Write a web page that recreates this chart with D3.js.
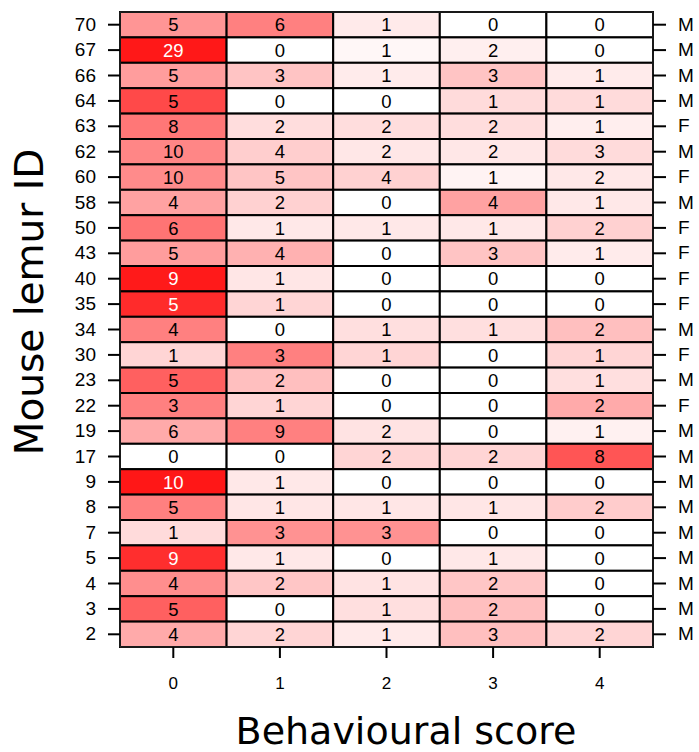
<!DOCTYPE html>
<html>
<head>
<meta charset="utf-8">
<script src="https://cdn.jsdelivr.net/npm/d3@7"></script>
<style>
  body { margin: 0; background: #fff; }
  text { font-family: "Liberation Sans", Arial, sans-serif; }
</style>
</head>
<body>
<script>
// Mouse IDs, top to bottom
const ids = ["70", "67", "66", "64", "63", "62", "60", "58", "50", "43", "40", "35", "34",
             "30", "23", "22", "19", "17", "9", "8", "7", "5", "4", "3", "2"];
const sexes = ["M", "M", "M", "M", "F", "M", "F", "M", "F", "F", "F", "F", "M",
               "F", "M", "F", "M", "M", "M", "M", "M", "M", "M", "M", "M"];
const scores = ["0", "1", "2", "3", "4"];

// counts per score, one row per mouse (same order as ids)
const counts = [
  [5, 6, 1, 0, 0],
  [29, 0, 1, 2, 0],
  [5, 3, 1, 3, 1],
  [5, 0, 0, 1, 1],
  [8, 2, 2, 2, 1],
  [10, 4, 2, 2, 3],
  [10, 5, 4, 1, 2],
  [4, 2, 0, 4, 1],
  [6, 1, 1, 1, 2],
  [5, 4, 0, 3, 1],
  [9, 1, 0, 0, 0],
  [5, 1, 0, 0, 0],
  [4, 0, 1, 1, 2],
  [1, 3, 1, 0, 1],
  [5, 2, 0, 0, 1],
  [3, 1, 0, 0, 2],
  [6, 9, 2, 0, 1],
  [0, 0, 2, 2, 8],
  [10, 1, 0, 0, 0],
  [5, 1, 1, 1, 2],
  [1, 3, 3, 0, 0],
  [9, 1, 0, 1, 0],
  [4, 2, 1, 2, 0],
  [5, 0, 1, 2, 0],
  [4, 2, 1, 3, 2]
];

const W = 699, H = 752;
const margin = {top: 12, right: 46, bottom: 105, left: 120};
const width = W - margin.left - margin.right;
const height = H - margin.top - margin.bottom;

const svg = d3.select("body").append("svg")
  .attr("width", W)
  .attr("height", H);

const g = svg.append("g")
  .attr("transform", "translate(" + margin.left + "," + margin.top + ")");

const x = d3.scaleBand().domain(scores).range([0, width]);
const y = d3.scaleBand().domain(ids).range([0, height]);

// colour by share of the row total, white -> red
const color = d3.scaleLinear().domain([0, 1]).range(["#ffffff", "#ff0000"]);

// flatten into cells
const cells = [];
counts.forEach((row, i) => {
  const total = d3.sum(row);
  row.forEach((v, j) => {
    cells.push({id: ids[i], score: scores[j], value: v, p: total ? v / total : 0});
  });
});

g.selectAll("rect.cell")
  .data(cells)
  .enter().append("rect")
  .attr("class", "cell")
  .attr("x", d => x(d.score))
  .attr("y", d => y(d.id))
  .attr("width", x.bandwidth())
  .attr("height", y.bandwidth())
  .attr("fill", d => color(d.p))
  .attr("stroke", "#000")
  .attr("stroke-width", 2);

g.selectAll("text.val")
  .data(cells)
  .enter().append("text")
  .attr("class", "val")
  .attr("x", d => x(d.score) + x.bandwidth() / 2)
  .attr("y", d => y(d.id) + y.bandwidth() / 2)
  .attr("dy", "0.36em")
  .attr("text-anchor", "middle")
  .style("font-size", "18.5px")
  .attr("fill", d => d.p > 0.78 ? "#fff" : "#000")
  .text(d => d.value);

// outer frame
g.append("rect")
  .attr("width", width)
  .attr("height", height)
  .attr("fill", "none")
  .attr("stroke", "#333")
  .attr("stroke-width", 1);

// left axis: ids
const yAxis = g.append("g")
  .call(d3.axisLeft(y).tickSize(12).tickPadding(12));
yAxis.select(".domain").remove();
yAxis.selectAll("line").attr("stroke-width", 2);
yAxis.selectAll("text").style("font-size", "19px").attr("fill", "#000");

// right axis: sex
const sexScale = d3.scaleBand().domain(d3.range(ids.length)).range([0, height]);
const rAxis = g.append("g")
  .attr("transform", "translate(" + width + ",0)")
  .call(d3.axisRight(sexScale).tickSize(13).tickPadding(12).tickFormat(i => sexes[i]));
rAxis.select(".domain").remove();
rAxis.selectAll("line").attr("stroke-width", 2);
rAxis.selectAll("text").style("font-size", "19px").attr("fill", "#000");

// bottom axis: scores
const xAxis = g.append("g")
  .attr("transform", "translate(0," + height + ")")
  .call(d3.axisBottom(x).tickSize(11).tickPadding(19));
xAxis.select(".domain").remove();
xAxis.selectAll("line").attr("stroke-width", 2);
xAxis.selectAll("text").style("font-size", "17px").attr("fill", "#000");

// axis titles
svg.append("text")
  .attr("x", 406)
  .attr("y", 744)
  .attr("text-anchor", "middle")
  .style("font-family", "DejaVu Sans")
  .style("font-size", "38px")
  .text("Behavioural score");

svg.append("text")
  .attr("transform", "translate(43,302) rotate(-90)")
  .attr("text-anchor", "middle")
  .style("font-family", "DejaVu Sans")
  .style("font-size", "39px")
  .text("Mouse lemur ID");
</script>
</body>
</html>
